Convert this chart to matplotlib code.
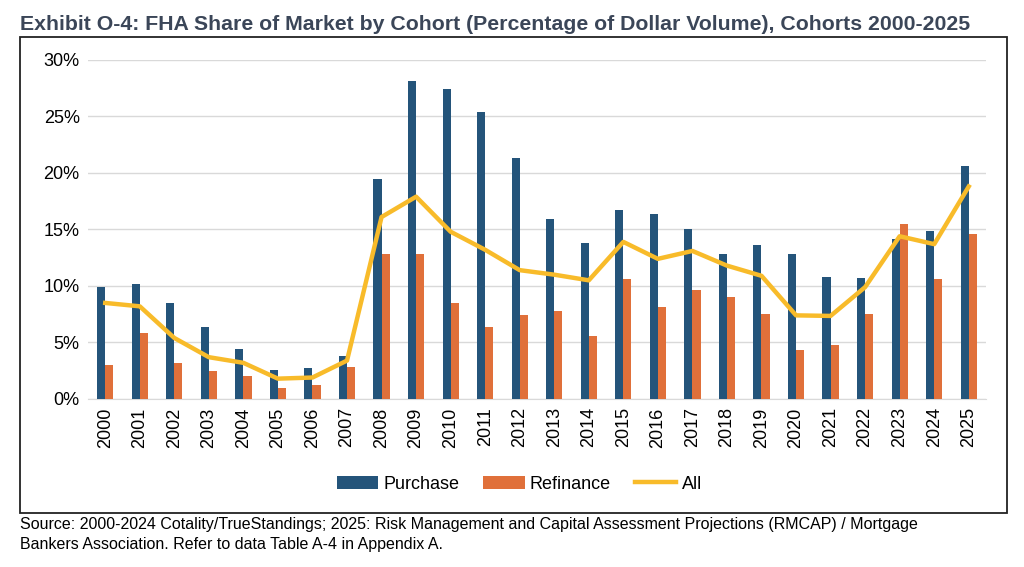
import numpy as np
import matplotlib.pyplot as plt
from matplotlib.patches import Rectangle

plt.rcParams['font.family'] = ['Liberation Sans', 'DejaVu Sans']

years = [str(y) for y in range(2000, 2026)]
purchase = [9.9, 10.2, 8.5, 6.4, 4.4, 2.6, 2.7, 3.8, 19.5, 28.1,
            27.4, 25.4, 21.3, 15.9, 13.8, 16.7, 16.4, 15.0, 12.8, 13.6,
            12.8, 10.8, 10.7, 14.2, 14.9, 20.6]
refinance = [3.0, 5.8, 3.2, 2.5, 2.0, 1.0, 1.2, 2.8, 12.8, 12.8,
             8.5, 6.4, 7.4, 7.8, 5.6, 10.6, 8.1, 9.6, 9.0, 7.5,
             4.3, 4.8, 7.5, 15.5, 10.6, 14.6]
all_share = [8.5, 8.2, 5.4, 3.7, 3.2, 1.8, 1.9, 3.4, 16.1, 17.9,
             14.8, 13.2, 11.4, 11.0, 10.5, 13.9, 12.4, 13.1, 11.8, 10.9,
             7.4, 7.35, 9.9, 14.4, 13.7, 18.8]
yticks = [0, 5, 10, 15, 20, 25, 30]

blue = '#24547a'
orange = '#e0703a'
gold = '#f8bb2a'

fig = plt.figure(figsize=(10.24, 5.67), dpi=100)
ax = fig.add_axes([0.0859, 0.2963, 0.877, 0.598])

x = np.arange(len(years))
w = 0.235
b1 = ax.bar(x - w / 2, purchase, w, color=blue, label='Purchase', zorder=3)
b2 = ax.bar(x + w / 2, refinance, w, color=orange, label='Refinance', zorder=3)
l1, = ax.plot(x, all_share, color=gold, lw=3.2, label='All', zorder=4,
              solid_joinstyle='round')

ax.set_xlim(-0.5, len(years) - 0.5)
ax.set_ylim(0, 30)
ax.set_yticks(yticks)
ax.set_yticklabels([f'{t}%' for t in yticks], fontsize=13)
ax.set_xticks(x)
ax.set_xticklabels(years, rotation=90, fontsize=13)
ax.tick_params(length=0, pad=6)
ax.grid(axis='y', color='#d9d9d9', lw=1, zorder=0)
for s in ['top', 'right', 'left']:
    ax.spines[s].set_visible(False)
ax.spines['bottom'].set_color('#d9d9d9')

fig.legend([b1, b2, l1], ['Purchase', 'Refinance', 'All'], loc='center',
           bbox_to_anchor=(0.507, 0.146), ncol=3, frameon=False,
           fontsize=13, handlelength=2.3, handletextpad=0.3, columnspacing=1.3)

fig.patches.append(Rectangle((20 / 1024, 1 - 513 / 567), 987 / 1024, 476 / 567,
                             transform=fig.transFigure, fill=False,
                             edgecolor='#222222', lw=1.3))

fig.text(20 / 1024, 1 - 24 / 567,
         'Exhibit O-4: FHA Share of Market by Cohort (Percentage of Dollar Volume), Cohorts 2000-2025',
         fontsize=15.3, fontweight='bold', color='#3b4658', va='center')
fig.text(20 / 1024, 1 - 525 / 567,
         'Source: 2000-2024 Cotality/TrueStandings; 2025: Risk Management and Capital Assessment Projections (RMCAP) / Mortgage',
         fontsize=11.5, va='center')
fig.text(20 / 1024, 1 - 545 / 567,
         'Bankers Association. Refer to data Table A-4 in Appendix A.',
         fontsize=11.5, va='center')

fig.savefig('out.png', dpi=100)
